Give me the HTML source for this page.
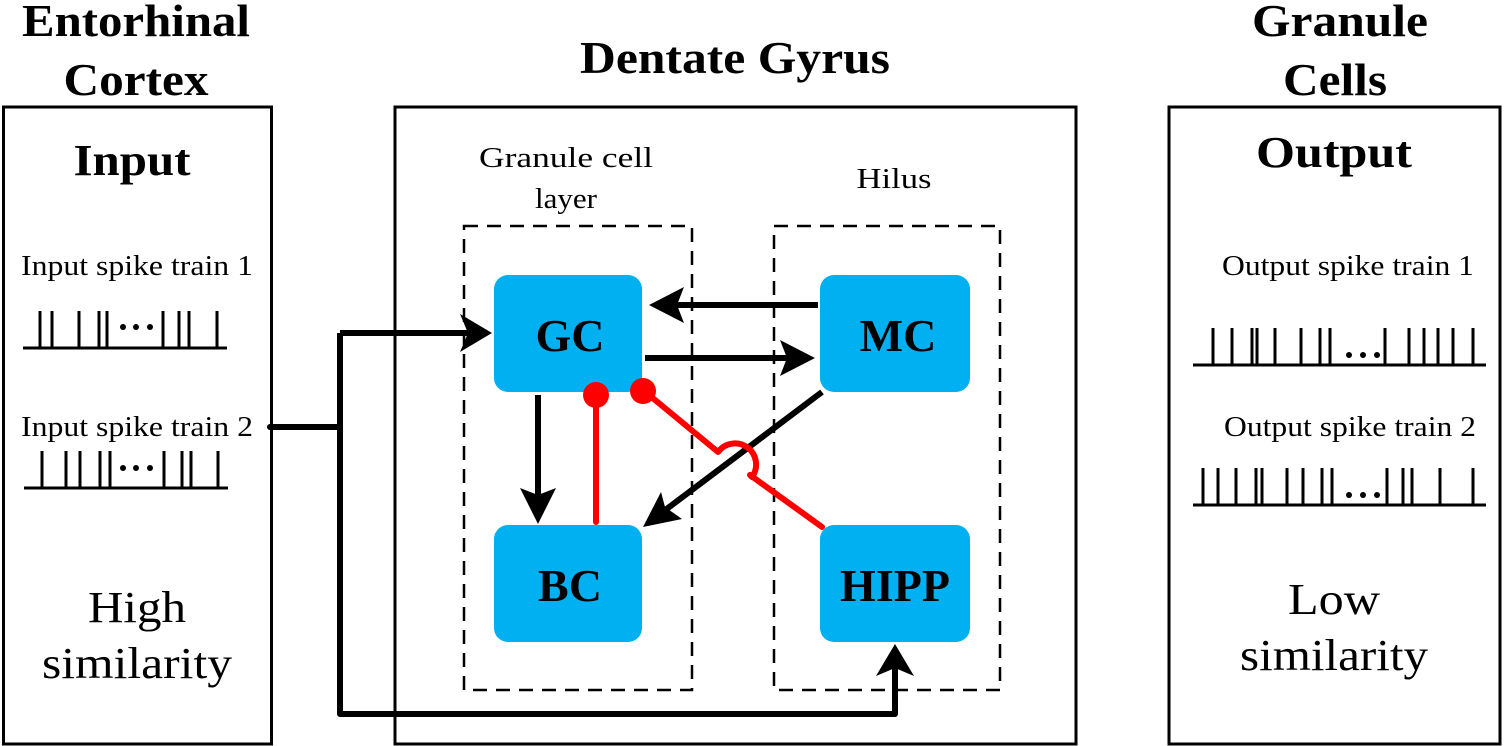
<!DOCTYPE html>
<html><head><meta charset="utf-8"><style>html,body{margin:0;padding:0;background:#fff}svg{display:block}svg text{font-family:"Liberation Serif","DejaVu Serif",serif}</style></head>
<body>
<svg width="1504" height="746" viewBox="0 0 1504 746" xmlns="http://www.w3.org/2000/svg">
<g font-weight="bold" font-size="45" text-anchor="middle" fill="#000">
<text x="136" y="36" textLength="228" lengthAdjust="spacingAndGlyphs">Entorhinal</text>
<text x="136" y="95" textLength="145" lengthAdjust="spacingAndGlyphs">Cortex</text>
<text x="735" y="73" textLength="310" lengthAdjust="spacingAndGlyphs">Dentate Gyrus</text>
<text x="1340" y="36" textLength="176" lengthAdjust="spacingAndGlyphs">Granule</text>
<text x="1335" y="95" textLength="104" lengthAdjust="spacingAndGlyphs">Cells</text>
<text x="132" y="175" font-size="44" textLength="117" lengthAdjust="spacingAndGlyphs">Input</text>
<text x="1334" y="167" font-size="44" textLength="156" lengthAdjust="spacingAndGlyphs">Output</text>
</g>
<rect x="3.5" y="107" width="268" height="637" fill="none" stroke="#000" stroke-width="3"/>
<rect x="395" y="107" width="681" height="637" fill="none" stroke="#000" stroke-width="3"/>
<rect x="1169" y="107" width="331" height="637" fill="none" stroke="#000" stroke-width="3"/>
<rect x="464" y="226" width="228" height="464" fill="none" stroke="#000" stroke-width="2.5" stroke-dasharray="14,9"/>
<rect x="774" y="226" width="226" height="464" fill="none" stroke="#000" stroke-width="2.5" stroke-dasharray="14,9"/>
<g font-size="28" text-anchor="middle">
<text x="566" y="167" textLength="174" lengthAdjust="spacingAndGlyphs">Granule cell</text>
<text x="566" y="208" textLength="62" lengthAdjust="spacingAndGlyphs">layer</text>
<text x="894" y="188" textLength="75" lengthAdjust="spacingAndGlyphs">Hilus</text>
<text x="137" y="275" textLength="232" lengthAdjust="spacingAndGlyphs">Input spike train 1</text>
<text x="137" y="436" textLength="232" lengthAdjust="spacingAndGlyphs">Input spike train 2</text>
<text x="1348" y="275" textLength="252" lengthAdjust="spacingAndGlyphs">Output spike train 1</text>
<text x="1350" y="436" textLength="252" lengthAdjust="spacingAndGlyphs">Output spike train 2</text>
<text x="137" y="622" font-size="44" textLength="98" lengthAdjust="spacingAndGlyphs">High</text>
<text x="137" y="678" font-size="44" textLength="190" lengthAdjust="spacingAndGlyphs">similarity</text>
<text x="1334" y="614" font-size="44" textLength="92" lengthAdjust="spacingAndGlyphs">Low</text>
<text x="1334" y="670" font-size="44" textLength="188" lengthAdjust="spacingAndGlyphs">similarity</text>
</g>
<g stroke="#000" stroke-width="3" fill="none">
<path d="M23 348H227 M40 348V311 M52 348V311 M79 348V311 M99 348V311 M107 348V311 M163 348V311 M179 348V311 M189 348V311 M217 348V311"/>
<path d="M24 488H228 M42 488V451 M66 488V451 M80 488V451 M100 488V451 M110 488V451 M164 488V451 M182 488V451 M191 488V451 M218 488V451"/>
<path d="M1193 365H1486 M1213 365V328 M1232 365V328 M1252 365V328 M1257 365V328 M1275 365V328 M1301 365V328 M1320 365V328 M1330 365V328 M1385 365V328 M1409 365V328 M1424 365V328 M1438 365V328 M1453 365V328 M1473 365V328"/>
<path d="M1193 505H1486 M1203 505V468 M1218 505V468 M1236 505V468 M1256 505V468 M1262 505V468 M1287 505V468 M1303 505V468 M1322 505V468 M1332 505V468 M1387 505V468 M1403 505V468 M1412 505V468 M1440 505V468 M1473 505V468"/>
</g>
<g fill="#000">
<circle cx="123" cy="327" r="3"/><circle cx="136" cy="327" r="3"/><circle cx="150" cy="327" r="3"/>
<circle cx="123" cy="468" r="3"/><circle cx="136" cy="468" r="3"/><circle cx="150" cy="468" r="3"/>
<circle cx="1349" cy="355" r="3"/><circle cx="1363" cy="355" r="3"/><circle cx="1377" cy="355" r="3"/>
<circle cx="1349" cy="495" r="3"/><circle cx="1363" cy="495" r="3"/><circle cx="1377" cy="495" r="3"/>
</g>
<g fill="#00b0f0">
<rect x="494" y="275" width="148" height="117" rx="14"/>
<rect x="820" y="275" width="150" height="117" rx="14"/>
<rect x="494" y="525" width="148" height="117" rx="14"/>
<rect x="820" y="525" width="150" height="117" rx="14"/>
</g>
<g font-weight="bold" font-size="46" text-anchor="middle">
<text x="570" y="351">GC</text>
<text x="898" y="351">MC</text>
<text x="570" y="601">BC</text>
<text x="895" y="601">HIPP</text>
</g>
<g stroke="#000" stroke-width="6" fill="none" stroke-linejoin="round">
<path d="M270 427H340 M340 333V714H895V668 M340 333H470"/>
<path d="M818 305H665"/>
<path d="M645 358H790"/>
<path d="M538 395V500"/>
<path d="M822 392L660 514"/>
</g>
<g fill="#000">
<path d="M492 333L460 314L468 333L460 352Z"/>
<path d="M895 644L876 676L895 668L914 676Z"/>
<path d="M649 305L684 287L677 305L684 323Z"/>
<path d="M815 358L780 340L787 358L780 376Z"/>
<path d="M538 524L520 488L538 495L556 488Z"/>
<path d="M643 527L661 492L665 507L682 519Z"/>
</g>
<circle cx="270" cy="427" r="3" fill="#000"/>
<g stroke="#f00" stroke-width="6" fill="none" stroke-linecap="round" stroke-linejoin="round">
<path d="M596 395V522"/>
<path d="M643 390L718 452 A18 18 0 0 1 752 477 L750 475 L822 527"/>
</g>
<g fill="#f00">
<circle cx="596" cy="395" r="13"/>
<circle cx="643" cy="391" r="13"/>
</g>
</svg>
</body></html>
